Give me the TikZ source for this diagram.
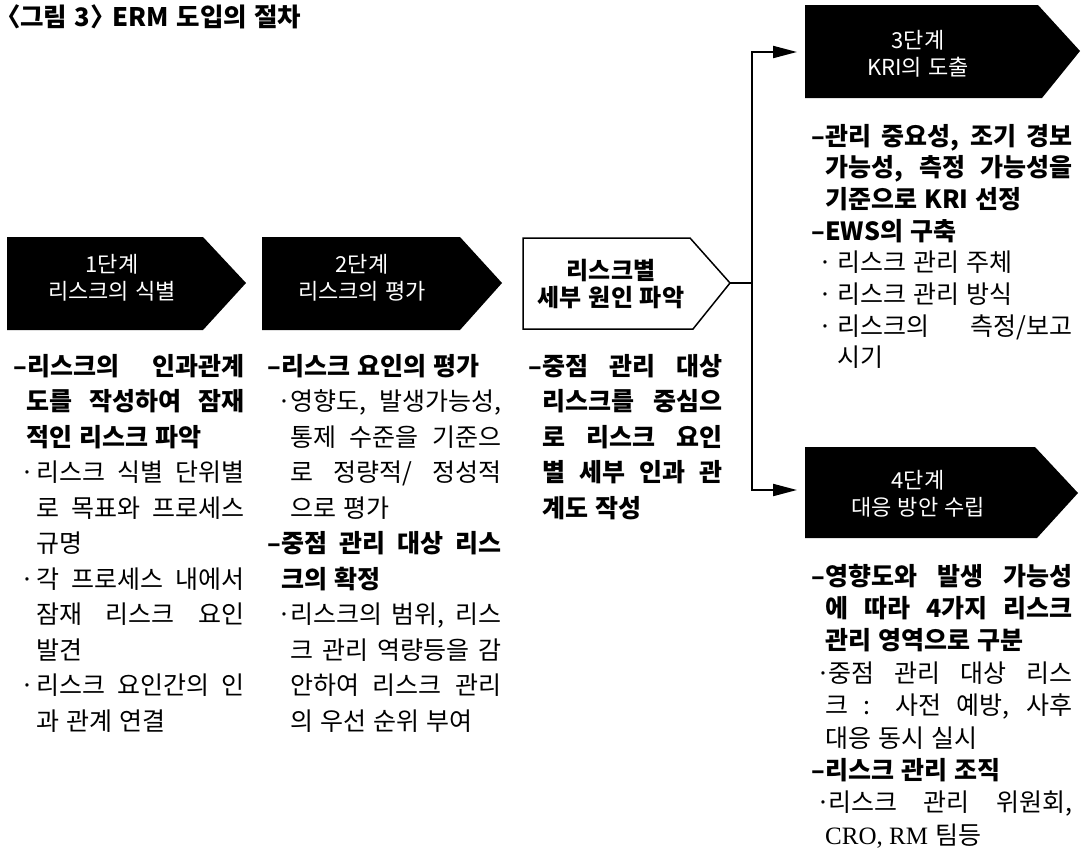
\documentclass[tikz,border=0pt]{standalone}
\usepackage{fontspec}
\setmainfont{Noto Sans CJK KR}[WordSpace=1.25]
\newfontfamily\latserif{Liberation Serif}
\usetikzlibrary{arrows.meta}

% justified line with indent
\newcommand\xJ[2]{\noindent\hspace*{#1}\makebox[\dimexpr\linewidth-#1\relax][s]{#2}\par}
% plain line with indent
\newcommand\xL[2]{\noindent\hspace*{#1}#2\par}
% bullet lines
\newcommand\xBJ[3]{\noindent\hspace*{#1}\makebox[\dimexpr#2-#1\relax][l]{·}\makebox[\dimexpr\linewidth-#2\relax][s]{#3}\par}
\newcommand\xBL[3]{\noindent\hspace*{#1}\makebox[\dimexpr#2-#1\relax][l]{·}#3\par}
% dash lines
\newcommand\xDJ[2]{\noindent\makebox[#1][r]{–}\makebox[\dimexpr\linewidth-#1\relax][s]{#2}\par}
\newcommand\xDL[2]{\noindent\makebox[#1][r]{–}#2\par}

\tikzset{
  col/.style={anchor=base west, inner sep=0pt, font=\fontsize{25}{35.5}\selectfont},
  blackbox/.style={fill=black},
  whitebox/.style={draw=black, line width=1.5pt, fill=white},
  boxtext/.style={align=center, inner sep=0pt, text=white, font=\fontsize{22}{27}\selectfont},
  conn/.style={line width=2pt, line join=miter},
}

\begin{document}
\begin{tikzpicture}[x=1pt,y=-1pt]
\useasboundingbox (0,0) rectangle (1086,862);

% title
\node[anchor=base west, inner sep=0pt, text height=20pt, text depth=4pt, font=\bfseries\fontsize{25.5}{26}\selectfont] (title) at (5,26.5) {\makebox[0.6em][r]{〈}그림 3〉\hspace{-0.4em} ERM 도입의 절차};

% boxes
\fill[blackbox] (7,237) -- (203,237) -- (246,283) -- (203,330) -- (7,330) -- cycle;
\node[boxtext] (s1) at (112,278) {1단계\\리스크의 식별};

\fill[blackbox] (262,237) -- (460,237) -- (502,283) -- (460,330) -- (262,330) -- cycle;
\node[boxtext] (s2) at (362,278) {2단계\\리스크의 평가};

\draw[whitebox] (523,238) -- (690,238) -- (730,283) -- (693,329) -- (523,329) -- cycle;
\node[boxtext, text=black, font=\bfseries\fontsize{24}{27}\selectfont] (s25) at (611,284) {리스크별\\세부 원인 파악};

\fill[blackbox] (805,5) -- (1038,5) -- (1080,51) -- (1042,98) -- (805,98) -- cycle;
\node[boxtext] (s3) at (918,54) {3단계\\KRI의 도출};

\fill[blackbox] (805,447) -- (1035,447) -- (1078,493) -- (1037,538) -- (805,538) -- cycle;
\node[boxtext] (s4) at (918,494) {4단계\\대응 방안 수립};

% connectors
\coordinate (b3tip) at (730,283);
\coordinate (jn) at (752,283);
\coordinate (top) at (752,52);
\coordinate (bot) at (752,490);
\coordinate (kriL) at (805,52);
\coordinate (b4L) at (805,490);
\draw[conn] (b3tip) -- (jn);
\draw[conn, {Triangle[length=24pt,width=12pt]}-{Triangle[length=24pt,width=12pt]}, shorten <=8pt, shorten >=8pt] (kriL) -- (top) -- (bot) -- (b4L);

% column 1
\node[col] (c1) at (12,375) {\parbox[t]{232pt}{\lineskiplimit=-100pt
{\bfseries
\xDJ{15pt}{리스크의 인과관계}
\xJ{14pt}{도를 작성하여 잠재}
\xL{14pt}{적인 리스크 파악}}
\xBJ{8pt}{24pt}{리스크 식별 단위별}
\xJ{24pt}{로 목표와 프로세스}
\xL{24pt}{규명}
\xBJ{8pt}{24pt}{각 프로세스 내에서}
\xJ{24pt}{잠재 리스크 요인}
\xL{24pt}{발견}
\xBJ{8pt}{24pt}{리스크 요인간의 인}
\xL{24pt}{과 관계 연결}}};

% column 2
\node[col] (c2) at (267,375) {\parbox[t]{234pt}{\lineskiplimit=-100pt
{\bfseries\xDL{14pt}{리스크 요인의 평가}}
\xBJ{10pt}{23pt}{영향도, 발생가능성,}
\xJ{23pt}{통제 수준을 기준으}
\xJ{23pt}{로 정량적/ 정성적}
\xL{23pt}{으로 평가}
{\bfseries
\xDJ{14pt}{중점 관리 대상 리스}
\xL{14pt}{크의 확정}}
\xBJ{10pt}{23pt}{리스크의 범위, 리스}
\xJ{23pt}{크 관리 역량등을 감}
\xJ{23pt}{안하여 리스크 관리}
\xL{23pt}{의 우선 순위 부여}}};

% column 3
\node[col] (c3) at (527,375) {\parbox[t]{195pt}{\lineskiplimit=-100pt
\bfseries
\xDJ{15pt}{중점 관리 대상}
\xJ{15pt}{리스크를 중심으}
\xJ{15pt}{로 리스크 요인}
\xJ{15pt}{별 세부 인과 관}
\xL{15pt}{계도 작성}}};

% column 4
\node[col, font=\fontsize{25}{31.7}\selectfont] (c4) at (812,145) {\parbox[t]{260pt}{\lineskiplimit=-100pt
{\bfseries
\xDJ{13pt}{관리 중요성, 조기 경보}
\xJ{13pt}{가능성, 측정 가능성을}
\xL{13pt}{기준으로 KRI 선정}
\xDL{13pt}{EWS의 구축}}
\xBL{6pt}{25pt}{리스크 관리 주체}
\xBL{6pt}{25pt}{리스크 관리 방식}
\xBJ{6pt}{25pt}{리스크의 측정/보고}
\xL{25pt}{시기}}};

% column 5
\node[col, font=\fontsize{25}{32.4}\selectfont] (c5) at (810,585) {\parbox[t]{262pt}{\lineskiplimit=-100pt
{\bfseries
\xDJ{15pt}{영향도와 발생 가능성}
\xJ{15pt}{에 따라 4가지 리스크}
\xL{15pt}{관리 영역으로 구분}}
\xBJ{6pt}{18pt}{중점 관리 대상 리스}
\xJ{15pt}{크 : 사전 예방, 사후}
\xL{15pt}{대응 동시 실시}
{\bfseries\xDL{15pt}{리스크 관리 조직}}
\xBJ{6pt}{18pt}{리스크 관리 위원회,}
\xL{15pt}{{\latserif CRO, RM} 팀등}}};

\end{tikzpicture}
\end{document}
